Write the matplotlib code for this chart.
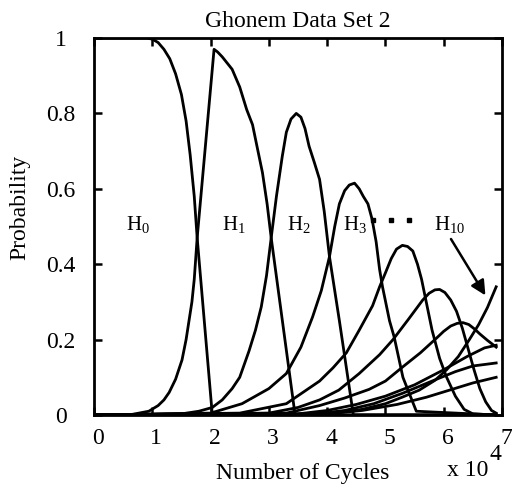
import matplotlib
matplotlib.use("Agg")
import matplotlib.pyplot as plt
from matplotlib.transforms import ScaledTranslation

plt.rcParams['font.family'] = ['Liberation Serif', 'DejaVu Serif']
plt.rcParams['mathtext.fontset'] = 'custom'
plt.rcParams['mathtext.rm'] = 'Liberation Serif'
plt.rcParams['mathtext.it'] = 'Liberation Serif:italic'

# ---- data (x in units of 1e4 cycles) ----
H0_x = [0, 0.9, 1.0, 1.1, 1.2, 1.3, 1.4, 1.5, 1.58, 1.65, 1.72, 1.77, 2.03, 6.9]
H0_y = [1, 1, 0.997, 0.988, 0.97, 0.945, 0.905, 0.85, 0.78, 0.69, 0.58, 0.47, 0.0, 0.0]

H1_x = [0, 0.6, 0.94, 1.1, 1.2, 1.29, 1.4, 1.51, 1.58, 1.63, 1.68, 1.72, 1.77, 2.06, 2.12,
        2.2, 2.37, 2.5, 2.62, 2.72, 2.8, 2.89, 2.97, 3.04, 3.45, 6.9]
H1_y = [0, 0, 0.01, 0.025, 0.04, 0.06, 0.095, 0.146, 0.2, 0.25, 0.3, 0.36, 0.47, 0.97, 0.963,
        0.95, 0.917, 0.87, 0.81, 0.77, 0.71, 0.643, 0.56, 0.47, 0.0, 0]

H2_x = [0, 1.5, 1.8, 2.03, 2.2, 2.37, 2.5, 2.66, 2.77, 2.87, 2.96, 3.04, 3.13, 3.23, 3.3, 3.38,
        3.47, 3.55, 3.62, 3.69, 3.78, 3.87, 3.95, 4.04, 4.21, 4.45, 6.9]
H2_y = [0, 0.003, 0.01, 0.02, 0.04, 0.07, 0.1, 0.17, 0.225, 0.287, 0.37, 0.47, 0.58, 0.686, 0.75, 0.785,
        0.80, 0.79, 0.76, 0.713, 0.67, 0.625, 0.54, 0.42, 0.25, 0.0, 0]

H3_x = [0, 2.0, 2.54, 3.0, 3.3, 3.55, 3.75, 3.9, 4.04, 4.13, 4.21, 4.3, 4.38, 4.47, 4.55, 4.62,
        4.7, 4.77, 4.84, 4.9, 4.95, 5.07, 5.15, 5.3, 5.53, 6.9]
H3_y = [0, 0.005, 0.03, 0.07, 0.11, 0.18, 0.26, 0.33, 0.42, 0.5, 0.56, 0.595, 0.61, 0.615, 0.6, 0.58,
        0.56, 0.52, 0.46, 0.386, 0.34, 0.25, 0.207, 0.1, 0.01, 0]

H4_x = [0, 2.5, 3.3, 3.87, 4.1, 4.33, 4.55, 4.78, 4.9, 5.0, 5.1, 5.19, 5.29, 5.38, 5.47, 5.55,
        5.62, 5.7, 5.8, 5.93, 6.05, 6.2, 6.35, 6.5, 6.9]
H4_y = [0, 0.005, 0.03, 0.09, 0.125, 0.165, 0.225, 0.29, 0.34, 0.377, 0.415, 0.44, 0.45, 0.447, 0.435, 0.40,
        0.36, 0.3, 0.225, 0.15, 0.1, 0.05, 0.015, 0.003, 0]

H5_x = [0, 3.0, 3.5, 3.87, 4.2, 4.55, 4.9, 5.13, 5.4, 5.64, 5.75, 5.85, 5.93, 6.02, 6.12, 6.22,
        6.32, 6.42, 6.52, 6.62, 6.72, 6.82, 6.9]
H5_y = [0, 0.005, 0.02, 0.04, 0.066, 0.11, 0.16, 0.2, 0.255, 0.305, 0.323, 0.332, 0.333, 0.325, 0.305, 0.275,
        0.23, 0.175, 0.12, 0.07, 0.035, 0.012, 0.005]

H6_x = [0, 3.3, 3.87, 4.3, 4.72, 5.0, 5.3, 5.6, 5.87, 6.0, 6.12, 6.23, 6.33, 6.43, 6.53, 6.62, 6.75, 6.9]
H6_y = [0, 0.005, 0.025, 0.045, 0.068, 0.09, 0.128, 0.165, 0.203, 0.222, 0.236, 0.243, 0.245, 0.24, 0.228,
        0.215, 0.198, 0.18]

H7_x = [0, 3.5, 4.0, 4.5, 5.0, 5.5, 6.0, 6.4, 6.7, 6.9]
H7_y = [0, 0.003, 0.012, 0.028, 0.05, 0.08, 0.12, 0.155, 0.178, 0.185]

H8_x = [0, 3.8, 4.3, 4.8, 5.3, 5.8, 6.2, 6.5, 6.9]
H8_y = [0, 0.003, 0.012, 0.03, 0.058, 0.09, 0.115, 0.13, 0.138]

H9_x = [0, 4.0, 4.6, 5.2, 5.7, 6.1, 6.5, 6.9]
H9_y = [0, 0.003, 0.012, 0.028, 0.047, 0.066, 0.085, 0.10]

H10_x = [0, 4.0, 4.6, 5.0, 5.3, 5.58, 5.85, 6.05, 6.25, 6.44, 6.6, 6.75, 6.9]
H10_y = [0, 0.002, 0.015, 0.03, 0.048, 0.066, 0.092, 0.12, 0.155, 0.2, 0.24, 0.285, 0.34]

curves = [(H0_x, H0_y), (H1_x, H1_y), (H2_x, H2_y), (H3_x, H3_y), (H4_x, H4_y),
          (H5_x, H5_y), (H6_x, H6_y), (H7_x, H7_y), (H8_x, H8_y), (H9_x, H9_y),
          (H10_x, H10_y)]

x_ticks = [0, 1, 2, 3, 4, 5, 6, 7]
x_ticklabels = ['0', '1', '2', '3', '4', '5', '6', '7']
y_ticks = [0, 0.2, 0.4, 0.6, 0.8, 1]
y_ticklabels = ['0', '0.2', '0.4', '0.6', '0.8', '1']

labels = [r'$\mathrm{H}_0$', r'$\mathrm{H}_1$', r'$\mathrm{H}_2$', r'$\mathrm{H}_3$', r'$\mathrm{H}_{10}$']
label_x = [0.76, 2.4, 3.52, 4.47, 6.1]
label_y = [0.49, 0.49, 0.49, 0.49, 0.49]
dots_x = [4.78, 5.1, 5.41]
dots_y = [0.516, 0.516, 0.516]

# ---- figure ----
fig = plt.figure(figsize=(5.12, 4.88), dpi=100)
ax = fig.add_axes([94/512, 1-415/488, 408/512, 377/488])

for xs, ys in curves:
    ax.plot(xs, ys, color='black', lw=2.0, solid_joinstyle='round')

ax.set_xlim(0, 7)
ax.set_ylim(0, 1)
ax.set_xticks(x_ticks)
ax.set_xticklabels(x_ticklabels)
ax.set_yticks(y_ticks)
ax.set_yticklabels(y_ticklabels)

for s in ax.spines.values():
    s.set_linewidth(2.0)

ax.tick_params(direction='in', length=6, width=1.8, top=True, right=True,
               labelsize=17)
ax.tick_params(axis='y', pad=24)
ax.tick_params(axis='x', pad=9)
for lab in ax.get_yticklabels():
    lab.set_horizontalalignment('center')
for lab in ax.get_xticklabels():
    lab.set_transform(lab.get_transform() + ScaledTranslation(4/100, 0, fig.dpi_scale_trans))

ax.set_title('Ghonem Data Set 2', fontsize=17, pad=8)
fig.text(303/512, 1-473/488, 'Number of Cycles', fontsize=17, ha='center', va='center')
fig.text(447/512, 1-470/488, 'x 10', fontsize=17, ha='left', va='center')
fig.text(489/512, 1-455/488, '4', fontsize=17, ha='left', va='center')
fig.text(20/512, 1-207/488, 'Probability', fontsize=17, rotation=90, ha='center', va='center')

for t, lx, ly in zip(labels, label_x, label_y):
    ax.text(lx, ly, t, fontsize=15, ha='center', va='baseline')
ax.plot(dots_x, dots_y, 's', color='black', ms=3.5)

ax.annotate('', xy=(6.74, 0.311), xytext=(6.1, 0.473),
            arrowprops=dict(arrowstyle='-|>', lw=1.8, color='black', mutation_scale=22))

fig.savefig('out.png', dpi=100)
